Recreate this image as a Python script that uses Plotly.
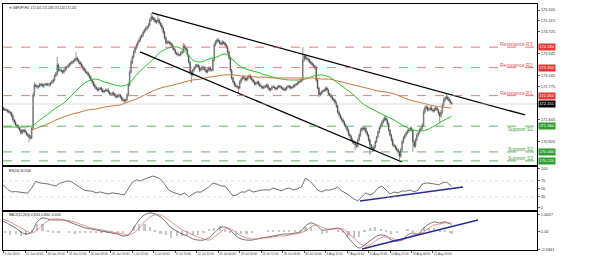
import plotly.graph_objects as go

symbol_title = "\u25bc GBPJPY,H4  172.101 172.208 172.124 172.151"
rsi_title = "RSI(14) 56.5584"
macd_title = "MACD(12,26,9) 0.3334 0.4360 -0.1026"

# ---- H4 candles, 9 Jun 2014 .. 26 Aug 2014 (bar index = trading H4 bar) ----
first_open = 172.10
close = [
    172.08, 172.04, 172.01, 171.97, 171.94, 171.93,
    171.90, 171.86, 171.83, 171.72, 171.58, 171.51,
    171.40, 171.37, 171.29, 171.22, 171.12, 171.19,
    171.22, 171.15, 171.08, 171.04, 170.97, 170.94,
    171.29, 172.47, 172.83, 172.79, 172.76, 172.79,
    172.86, 172.83, 172.79, 172.83, 172.86, 172.86,
    172.83, 172.86, 172.90, 172.94, 173.01, 173.15,
    173.22, 173.54, 173.36, 173.36, 173.33, 173.29,
    173.36, 173.44, 173.47, 173.51, 173.58, 173.61,
    173.65, 173.69, 173.72, 173.79, 173.72, 173.65,
    173.58, 173.51, 173.44, 173.36, 173.29, 173.26,
    173.19, 173.11, 173.01, 172.94, 172.83, 172.76,
    172.69, 172.65, 172.69, 172.72, 172.65, 172.58,
    172.62, 172.65, 172.65, 172.58, 172.51, 172.51,
    172.54, 172.51, 172.44, 172.40, 172.44, 172.47,
    172.40, 172.33, 172.29, 172.26, 172.29, 172.47,
    172.83, 173.29, 173.65, 173.83, 174.01, 174.15,
    174.26, 174.36, 174.44, 174.54, 174.61, 174.72,
    174.79, 174.86, 174.90, 174.97, 175.15, 175.26,
    175.22, 175.15, 175.08, 175.11, 175.15, 175.04,
    174.97, 174.86, 174.72, 174.51, 174.33, 174.36,
    174.36, 174.29, 174.26, 174.15, 174.08, 173.97,
    173.94, 173.90, 173.90, 173.97, 174.01, 174.22,
    174.15, 174.08, 173.90, 173.65, 173.29, 173.19,
    173.36, 173.44, 173.51, 173.54, 173.47, 173.36,
    173.40, 173.47, 173.44, 173.36, 173.29, 173.36,
    173.44, 173.36, 173.36, 173.72, 174.26, 174.36,
    174.44, 174.40, 174.33, 174.29, 174.36, 174.33,
    174.26, 174.19, 174.01, 173.79, 173.36, 173.08,
    172.94, 172.83, 172.79, 172.76, 172.72, 172.94,
    173.04, 173.11, 173.08, 173.01, 173.04, 173.11,
    173.15, 173.08, 173.01, 172.94, 172.86, 172.90,
    172.94, 172.86, 172.79, 172.76, 172.72, 172.76,
    172.79, 172.83, 172.72, 172.65, 172.69, 172.76,
    172.76, 172.72, 172.69, 172.76, 172.79, 172.76,
    172.72, 172.69, 172.65, 172.69, 172.76, 172.79,
    172.76, 172.72, 172.76, 172.79, 172.83, 172.86,
    172.90, 172.94, 172.97, 173.01, 173.72, 173.86,
    173.79, 173.76, 173.72, 173.65, 173.61, 173.54,
    173.51, 173.44, 173.01, 172.72, 172.47, 172.54,
    172.58, 172.62, 172.65, 172.72, 172.65, 172.51,
    172.47, 172.40, 172.33, 172.29, 172.19, 172.08,
    171.86, 171.76, 171.65, 171.58, 171.51, 171.40,
    171.33, 171.22, 171.08, 171.01, 170.87, 170.80,
    170.76, 170.69, 170.65, 170.87, 171.04, 171.22,
    171.29, 171.26, 171.29, 171.15, 171.04, 170.87,
    170.69, 170.58, 170.51, 170.62, 170.80, 170.97,
    171.15, 171.29, 171.40, 171.51, 171.58, 171.65,
    171.58, 171.44, 171.22, 171.04, 170.87, 170.69,
    170.65, 170.58, 170.51, 170.44, 170.29, 170.51,
    170.80, 170.94, 171.04, 171.12, 171.19, 171.22,
    171.29, 171.22, 170.80, 170.65, 170.87, 171.04,
    171.12, 171.22, 171.29, 171.40, 171.86, 172.01,
    172.04, 171.94, 171.97, 172.01, 171.94, 171.90,
    171.97, 172.01, 171.94, 171.83, 171.72, 171.86,
    172.12, 172.29, 172.36, 172.40, 172.33, 172.26,
    172.19, 172.15,
]
# upper / lower shadows beyond the body, in pips (0.01)
wick_up = [
    5, 4, 6, 3, 5, 4,  4, 6, 3, 5, 7, 4,  5, 3, 6, 4, 5, 7,  4, 6, 5, 3, 6, 8,
    6, 8, 10, 5, 6, 4,  5, 4, 7, 6, 5, 4,  6, 5, 4, 7, 5, 6,  8, 29, 6, 5, 7, 4,
    5, 6, 4, 7, 5, 6,  6, 5, 7, 21, 5, 4,  4, 6, 5, 3, 6, 5,  5, 4, 6, 5, 4, 6,
    6, 5, 7, 4, 5, 6,  4, 6, 5, 7, 5, 4,  5, 6, 4, 5, 7, 5,  4, 5, 6, 4, 5, 8,
    10, 8, 9, 6, 7, 5,  6, 5, 7, 6, 5, 6,  5, 6, 5, 7, 6, 14,  6, 5, 7, 5, 18, 6,
    5, 7, 6, 5, 6, 7,  6, 5, 7, 6, 5, 4,  5, 6, 4, 5, 6, 11,  7, 5, 6, 4, 5, 6,
    5, 6, 7, 5, 4, 6,  6, 5, 4, 7, 5, 6,  5, 6, 4, 9, 8, 7,  6, 7, 5, 6, 8, 5,
    5, 6, 4, 5, 6, 4,  5, 4, 6, 5, 4, 7,  6, 5, 7, 5, 6, 5,  5, 6, 4, 5, 6, 5,
    4, 5, 6, 4, 5, 6,  5, 4, 6, 5, 4, 6,  6, 5, 4, 5, 6, 4,  5, 4, 6, 5, 4, 5,
    4, 5, 4, 6, 5, 4,  5, 4, 6, 5, 46, 8,  7, 6, 5, 6, 4, 5,  6, 5, 7, 6, 5, 4,
    5, 6, 4, 5, 6, 5,  4, 5, 6, 4, 5, 6,  5, 6, 4, 5, 6, 4,  5, 4, 6, 5, 4, 6,
    5, 6, 5, 8, 7, 6,  6, 7, 5, 6, 5, 4,  5, 4, 6, 7, 6, 5,  6, 7, 5, 6, 7, 8,
    7, 5, 6, 4, 5, 6,  5, 4, 6, 5, 4, 8,  7, 6, 5, 6, 5, 4,  5, 6, 4, 5, 7, 6,
    5, 6, 7, 6, 10, 8,  7, 6, 5, 6, 7, 5,  6, 5, 7, 4, 5, 8,  7, 9, 8, 14, 6, 5,
    5, 4,
]
wick_dn = [
    4, 6, 5, 7, 4, 5,  6, 4, 7, 5, 6, 8,  5, 7, 4, 6, 8, 5,  6, 5, 7, 8, 18, 6,
    5, 4, 6, 5, 7, 6,  6, 5, 4, 7, 5, 6,  5, 6, 7, 4, 6, 5,  4, 6, 7, 5, 6, 7,
    6, 5, 7, 4, 5, 6,  5, 6, 4, 5, 6, 7,  6, 5, 7, 6, 5, 4,  5, 6, 4, 7, 5, 6,
    6, 5, 6, 5, 7, 4,  5, 4, 6, 5, 6, 7,  6, 5, 7, 5, 4, 6,  5, 7, 6, 11, 5, 4,
    5, 4, 6, 7, 5, 6,  6, 5, 4, 6, 5, 7,  5, 6, 7, 5, 4, 6,  7, 6, 5, 8, 6, 5,
    6, 7, 8, 6, 7, 5,  6, 5, 7, 6, 5, 6,  5, 6, 4, 5, 6, 5,  6, 5, 7, 6, 8, 29,
    6, 5, 4, 6, 5, 7,  5, 6, 7, 5, 6, 4,  5, 6, 4, 5, 6, 5,  6, 5, 7, 6, 5, 6,
    5, 6, 7, 6, 8, 7,  6, 7, 5, 6, 18, 5,  6, 5, 4, 6, 5, 6,  5, 6, 5, 4, 6, 5,
    6, 5, 4, 6, 5, 4,  5, 6, 5, 4, 6, 5,  4, 5, 6, 5, 4, 6,  5, 6, 4, 5, 6, 5,
    6, 5, 4, 5, 6, 4,  5, 6, 4, 5, 5, 6,  6, 5, 7, 5, 6, 5,  6, 7, 8, 6, 7, 5,
    6, 5, 4, 6, 5, 6,  5, 6, 7, 5, 6, 7,  6, 7, 5, 6, 7, 6,  7, 6, 8, 7, 6, 7,
    6, 18, 7, 6, 5, 6,  5, 6, 7, 6, 5, 7,  36, 6, 7, 6, 5, 4,  5, 6, 4, 5, 6, 5,
    6, 5, 7, 6, 7, 6,  6, 7, 6, 7, 21, 6,  7, 6, 5, 6, 5, 6,  5, 6, 36, 7, 6, 5,
    6, 5, 6, 5, 7, 6,  6, 7, 5, 6, 5, 6,  5, 6, 5, 7, 25, 6,  6, 5, 6, 5, 6, 5,
    5, 4,
]

# ---- moving averages (read every 6 bars) ----
ma_fast_bars = list(range(0, 337, 6)) + [337]
ma_fast = [
    171.33, 171.33, 171.33, 171.33, 171.37, 171.58, 171.79, 172.01, 172.19, 172.47,
    172.76, 172.97, 173.04, 172.94, 172.86, 172.79, 172.86, 173.19, 173.47, 173.72,
    174.01, 174.15, 174.19, 174.04, 173.72, 173.65, 173.76, 173.83, 173.94, 173.72,
    173.47, 173.36, 173.29, 173.19, 173.11, 173.04, 173.01, 173.01, 173.04, 173.15,
    173.19, 173.11, 172.90, 172.69, 172.47, 172.19, 172.01, 171.86, 171.72, 171.58,
    171.40, 171.26, 171.19, 171.22, 171.37, 171.54, 171.69, 171.72,
]
ma_slow_bars = list(range(24, 337, 6)) + [337]
ma_slow = [
    171.22, 171.33, 171.44, 171.58, 171.69, 171.79, 171.86, 171.94, 171.97, 172.04,
    172.08, 172.12, 172.22, 172.33, 172.47, 172.61, 172.72, 172.79, 172.86, 172.94,
    173.01, 173.04, 173.11, 173.15, 173.19, 173.19, 173.15, 173.15, 173.11, 173.11,
    173.08, 173.08, 173.08, 173.08, 173.08, 173.08, 173.04, 173.04, 172.97, 172.90,
    172.83, 172.76, 172.69, 172.61, 172.58, 172.51, 172.40, 172.29, 172.22, 172.15,
    172.08, 172.04, 172.01, 172.01,
]

# ---- RSI(14), read every 3 bars ----
rsi_bars = list(range(0, 337, 3)) + [337]
rsi = [
    57.3, 60.1, 49.6, 42.8, 43.5, 41.9, 40.2, 39.6, 52.8, 69.4,
    65.2, 64.1, 62.7, 59.8, 57.9, 64.6, 67.9, 70.3, 67.2, 60.4,
    55.3, 47.2, 45.4, 44.6, 40.3, 42.7, 39.8, 37.6, 40.4, 39.7,
    37.3, 35.2, 52.6, 67.1, 72.8, 70.2, 74.6, 77.9, 82.3, 79.8,
    74.7, 62.2, 47.6, 42.3, 37.8, 35.1, 40.2, 30.4, 37.2, 42.8,
    42.1, 47.9, 55.2, 64.8, 62.3, 57.8, 57.1, 45.3, 32.6, 35.4,
    42.6, 42.2, 47.8, 42.4, 45.3, 47.1, 47.9, 47.2, 52.7, 49.8,
    45.2, 50.3, 52.4, 47.6, 50.2, 55.1, 77.2, 70.4, 60.2, 47.3,
    42.6, 47.7, 47.2, 50.3, 54.8, 45.2, 40.1, 32.8, 25.3, 20.4,
    30.2, 40.3, 35.1, 40.2, 52.6, 57.3, 47.6, 37.7, 42.4, 40.3,
    45.2, 44.8, 47.6, 42.7, 47.4, 62.3, 65.2, 64.8, 62.6, 60.1,
    65.3, 67.4, 57.8, 56.56,
]

# ---- MACD(12,26,9), read every 4 bars ----
macd_bars = list(range(0, 337, 4)) + [337]
macd_main = [
    0.54, 0.49, 0.33, 0.18, -0.03, -0.13, -0.03, 0.49, 0.69, 0.64,
    0.59, 0.59, 0.59, 0.49, 0.38, 0.28, 0.18, 0.13, 0.08, 0.03,
    -0.03, -0.08, -0.13, -0.23, -0.18, 0.18, 0.59, 0.85, 0.95, 0.90,
    0.74, 0.49, 0.18, 0.03, -0.13, -0.23, -0.38, -0.44, -0.44, -0.33,
    -0.08, 0.18, 0.23, 0.08, -0.23, -0.38, -0.44, -0.44, -0.38, -0.33,
    -0.28, -0.23, -0.18, -0.13, -0.13, -0.08, -0.03, 0.28, 0.44, 0.33,
    0.08, 0.08, 0.13, 0.18, 0.03, -0.33, -0.64, -0.85, -0.69, -0.49,
    -0.28, -0.18, -0.23, -0.44, -0.49, -0.44, -0.18, -0.08, -0.13, 0.18,
    0.38, 0.49, 0.44, 0.49, 0.38, 0.33,
]
macd_signal = [
    0.64, 0.59, 0.49, 0.33, 0.18, 0.03, -0.08, 0.08, 0.33, 0.54,
    0.64, 0.64, 0.59, 0.54, 0.49, 0.38, 0.28, 0.18, 0.13, 0.08,
    0.03, -0.03, -0.08, -0.13, -0.18, -0.08, 0.18, 0.49, 0.74, 0.85,
    0.85, 0.69, 0.49, 0.28, 0.08, -0.03, -0.18, -0.28, -0.38, -0.44,
    -0.28, -0.08, 0.13, 0.13, -0.03, -0.23, -0.33, -0.38, -0.38, -0.33,
    -0.33, -0.28, -0.23, -0.23, -0.18, -0.13, -0.08, 0.03, 0.23, 0.33,
    0.23, 0.13, 0.13, 0.13, 0.13, -0.08, -0.33, -0.59, -0.74, -0.69,
    -0.49, -0.33, -0.28, -0.33, -0.44, -0.44, -0.33, -0.18, -0.13, -0.03,
    0.18, 0.33, 0.38, 0.44, 0.44, 0.44,
]

# ---- analyst drawings ----
channel_upper_bars = [113.6, 391.6]
channel_upper_px = [175.40, 171.76]
channel_lower_bars = [104.7, 299.9]
channel_lower_px = [174.01, 170.08]
rsi_trend_bars = [268.6, 345.4]
rsi_trend_vals = [20.0, 55.0]
macd_trend_bars = [270.1, 356.6]
macd_trend_vals = [-0.90, 0.59]

resistance_names = ["Resistance R3", "Resistance R2", "Resistance R1"]
resistance_levels = [174.18, 173.45, 172.45]
support_names = ["Support S1", "Support S2", "Support S3"]
support_levels = [171.36, 170.44, 170.12]
bid_price = 172.151

# ---- axis labels ----
x_tick_bars = [3, 19, 35, 51, 67, 83, 99, 115, 131, 147, 163, 179, 195, 211,
               227, 243, 259, 275, 291, 307, 323]
x_tick_text = ["9 Jun 2014", "12 Jun 04:00", "16 Jun 20:00", "19 Jun 12:00",
               "24 Jun 04:00", "26 Jun 20:00", "1 Jul 12:00", "4 Jul 04:00",
               "8 Jul 20:00", "11 Jul 12:00", "16 Jul 04:00", "18 Jul 20:00",
               "23 Jul 12:00", "28 Jul 04:00", "30 Jul 20:00", "4 Aug 12:00",
               "7 Aug 04:00", "11 Aug 20:00", "14 Aug 12:00", "19 Aug 04:00",
               "21 Aug 20:00"]
# price scale labels (those hidden under the level tags are left out)
price_ticks = [175.505, 175.115, 174.725, 173.945, 173.165, 172.775, 171.605,
               170.825]
rsi_tick_vals = [100, 70, 50, 30, 4]
rsi_tick_text = ["100", "70", "50", "30", "0"]
macd_tick_vals = [0.86, 0.0, -0.93]
macd_tick_text = ["1.0027", "0.00", "-0.9461"]

# ---------------------------------------------------------------
bars = list(range(len(close)))
opens = [first_open] + close[:-1]
highs = [max(o, c) + u / 100 for o, c, u in zip(opens, close, wick_up)]
lows = [min(o, c) - d / 100 for o, c, d in zip(opens, close, wick_dn)]
macd_hist = [m - s for m, s in zip(macd_main, macd_signal)]

RED = "#e05858"
GREEN = "#3f9f3f"
FONT = "Liberation Sans, Arial, sans-serif"

fig = go.Figure()
fig.add_trace(go.Candlestick(
    x=bars, open=opens, high=highs, low=lows, close=close,
    xaxis="x", yaxis="y", whiskerwidth=0,
    increasing=dict(line=dict(color="#3a3a3a", width=0.55), fillcolor="#d8d8d8"),
    decreasing=dict(line=dict(color="#3a3a3a", width=0.55), fillcolor="#4a4a4a"),
    hoverinfo="skip"))
fig.add_trace(go.Scatter(x=ma_fast_bars, y=ma_fast, mode="lines", xaxis="x", yaxis="y",
                         line=dict(color="#22c322", width=1, shape="spline")))
fig.add_trace(go.Scatter(x=ma_slow_bars, y=ma_slow, mode="lines", xaxis="x", yaxis="y",
                         line=dict(color="#c8773a", width=1, shape="spline")))
fig.add_trace(go.Scatter(x=channel_upper_bars, y=channel_upper_px, mode="lines",
                         xaxis="x", yaxis="y", line=dict(color="black", width=1.3)))
fig.add_trace(go.Scatter(x=channel_lower_bars, y=channel_lower_px, mode="lines",
                         xaxis="x", yaxis="y", line=dict(color="black", width=1.3)))

fig.add_trace(go.Scatter(x=rsi_bars, y=rsi, mode="lines", xaxis="x2", yaxis="y2",
                         line=dict(color="#333333", width=0.7)))
fig.add_trace(go.Scatter(x=rsi_trend_bars, y=rsi_trend_vals, mode="lines",
                         xaxis="x2", yaxis="y2", line=dict(color="#2a2a90", width=1.4)))

fig.add_trace(go.Bar(x=macd_bars, y=macd_hist, xaxis="x3", yaxis="y3", width=1.6,
                     marker=dict(color="#c4c4c4", line=dict(width=0))))
fig.add_trace(go.Scatter(x=macd_bars, y=macd_main, mode="lines", xaxis="x3", yaxis="y3",
                         line=dict(color="#333333", width=0.7, shape="spline")))
fig.add_trace(go.Scatter(x=macd_bars, y=macd_signal, mode="lines", xaxis="x3", yaxis="y3",
                         line=dict(color="#e06060", width=0.7, shape="spline")))
fig.add_trace(go.Scatter(x=macd_trend_bars, y=macd_trend_vals, mode="lines",
                         xaxis="x3", yaxis="y3", line=dict(color="#2a2a90", width=1.4)))

xr = [2.608, 400.5]
common_x = dict(range=xr, showgrid=False, zeroline=False, showline=True, mirror=True,
                linecolor="black", linewidth=1, fixedrange=True)
common_y = dict(showgrid=False, zeroline=False, showline=True, mirror=True,
                linecolor="black", linewidth=1, side="right", ticks="outside",
                ticklen=2, tickcolor="#555", tickfont=dict(size=4, color="#333"))

shapes = []
for lv in resistance_levels:
    shapes.append(dict(type="line", xref="x domain", x0=0, x1=1, yref="y", y0=lv, y1=lv,
                       line=dict(color=RED, width=0.8, dash="dash")))
for lv in support_levels:
    shapes.append(dict(type="line", xref="x domain", x0=0, x1=1, yref="y", y0=lv, y1=lv,
                       line=dict(color=GREEN, width=0.8, dash="dash")))
shapes.append(dict(type="line", xref="x domain", x0=0, x1=1, yref="y", y0=bid_price,
                   y1=bid_price, line=dict(color="#c4c4c4", width=0.6)))
for lv in (70, 30):
    shapes.append(dict(type="line", xref="x2 domain", x0=0, x1=1, yref="y2", y0=lv, y1=lv,
                       line=dict(color="#cfcfcf", width=0.6, dash="dot")))

ann = []
shifts_r = [3, 3, 3]
shifts_s = [-3, 3, 3]
for name, lv, sh in zip(resistance_names, resistance_levels, shifts_r):
    ann.append(dict(text=name, xref="paper", x=0.997, xanchor="right", yref="y", y=lv,
                    yshift=sh, showarrow=False, font=dict(size=5, color=RED)))
    ann.append(dict(text=f"{lv:.3f}", xref="paper", x=1, xanchor="left", xshift=1,
                    yref="y", y=lv, showarrow=False, bgcolor="#e53935", borderpad=0.4,
                    font=dict(size=4, color="white")))
for name, lv, sh in zip(support_names, support_levels, shifts_s):
    ann.append(dict(text=name, xref="paper", x=0.997, xanchor="right", yref="y", y=lv,
                    yshift=sh, showarrow=False, font=dict(size=5, color=GREEN)))
    ann.append(dict(text=f"{lv:.3f}", xref="paper", x=1, xanchor="left", xshift=1,
                    yref="y", y=lv, showarrow=False, bgcolor="#2e9e2e", borderpad=0.4,
                    font=dict(size=4, color="white")))
ann.append(dict(text=f"{bid_price:.3f}", xref="paper", x=1, xanchor="left", xshift=1,
                yref="y", y=bid_price, showarrow=False, bgcolor="black", borderpad=0.4,
                font=dict(size=4, color="white")))
ann.append(dict(text=symbol_title, xref="paper", x=0.008, xanchor="left", yref="paper",
                y=0.984, yanchor="middle", showarrow=False, font=dict(size=3, color="#111")))
ann.append(dict(text=rsi_title, xref="paper", x=0.008, xanchor="left", yref="paper",
                y=0.321, yanchor="middle", showarrow=False, font=dict(size=3, color="#111")))
ann.append(dict(text=macd_title, xref="paper", x=0.008, xanchor="left", yref="paper",
                y=0.142, yanchor="middle", showarrow=False, font=dict(size=3, color="#111")))

fig.update_layout(
    width=590, height=259, margin=dict(l=3, r=53, t=4, b=9),
    paper_bgcolor="white", plot_bgcolor="white", showlegend=False,
    font=dict(family=FONT, size=4, color="#333"), bargap=0,
    xaxis=dict(anchor="y", showticklabels=False, ticks="",
               rangeslider=dict(visible=False), **common_x),
    xaxis2=dict(anchor="y2", matches="x", showticklabels=False, ticks="", **common_x),
    xaxis3=dict(anchor="y3", matches="x", tickvals=x_tick_bars, ticktext=x_tick_text,
                ticks="outside", ticklen=2, tickcolor="#555", tickangle=0,
                ticklabelposition="outside right",
                tickfont=dict(size=3, color="#333"), **common_x),
    yaxis=dict(domain=[0.3455, 1], range=[169.973, 175.721], tickvals=price_ticks,
               ticktext=[f"{v:.3f}" for v in price_ticks], **common_y),
    yaxis2=dict(domain=[0.1626, 0.3374], range=[-2.5, 105], tickvals=rsi_tick_vals,
                ticktext=rsi_tick_text, **common_y),
    yaxis3=dict(domain=[0, 0.1545], range=[-0.95, 1.0], tickvals=macd_tick_vals,
                ticktext=macd_tick_text, **common_y),
    shapes=shapes, annotations=ann,
)

fig.write_html("out.html")
